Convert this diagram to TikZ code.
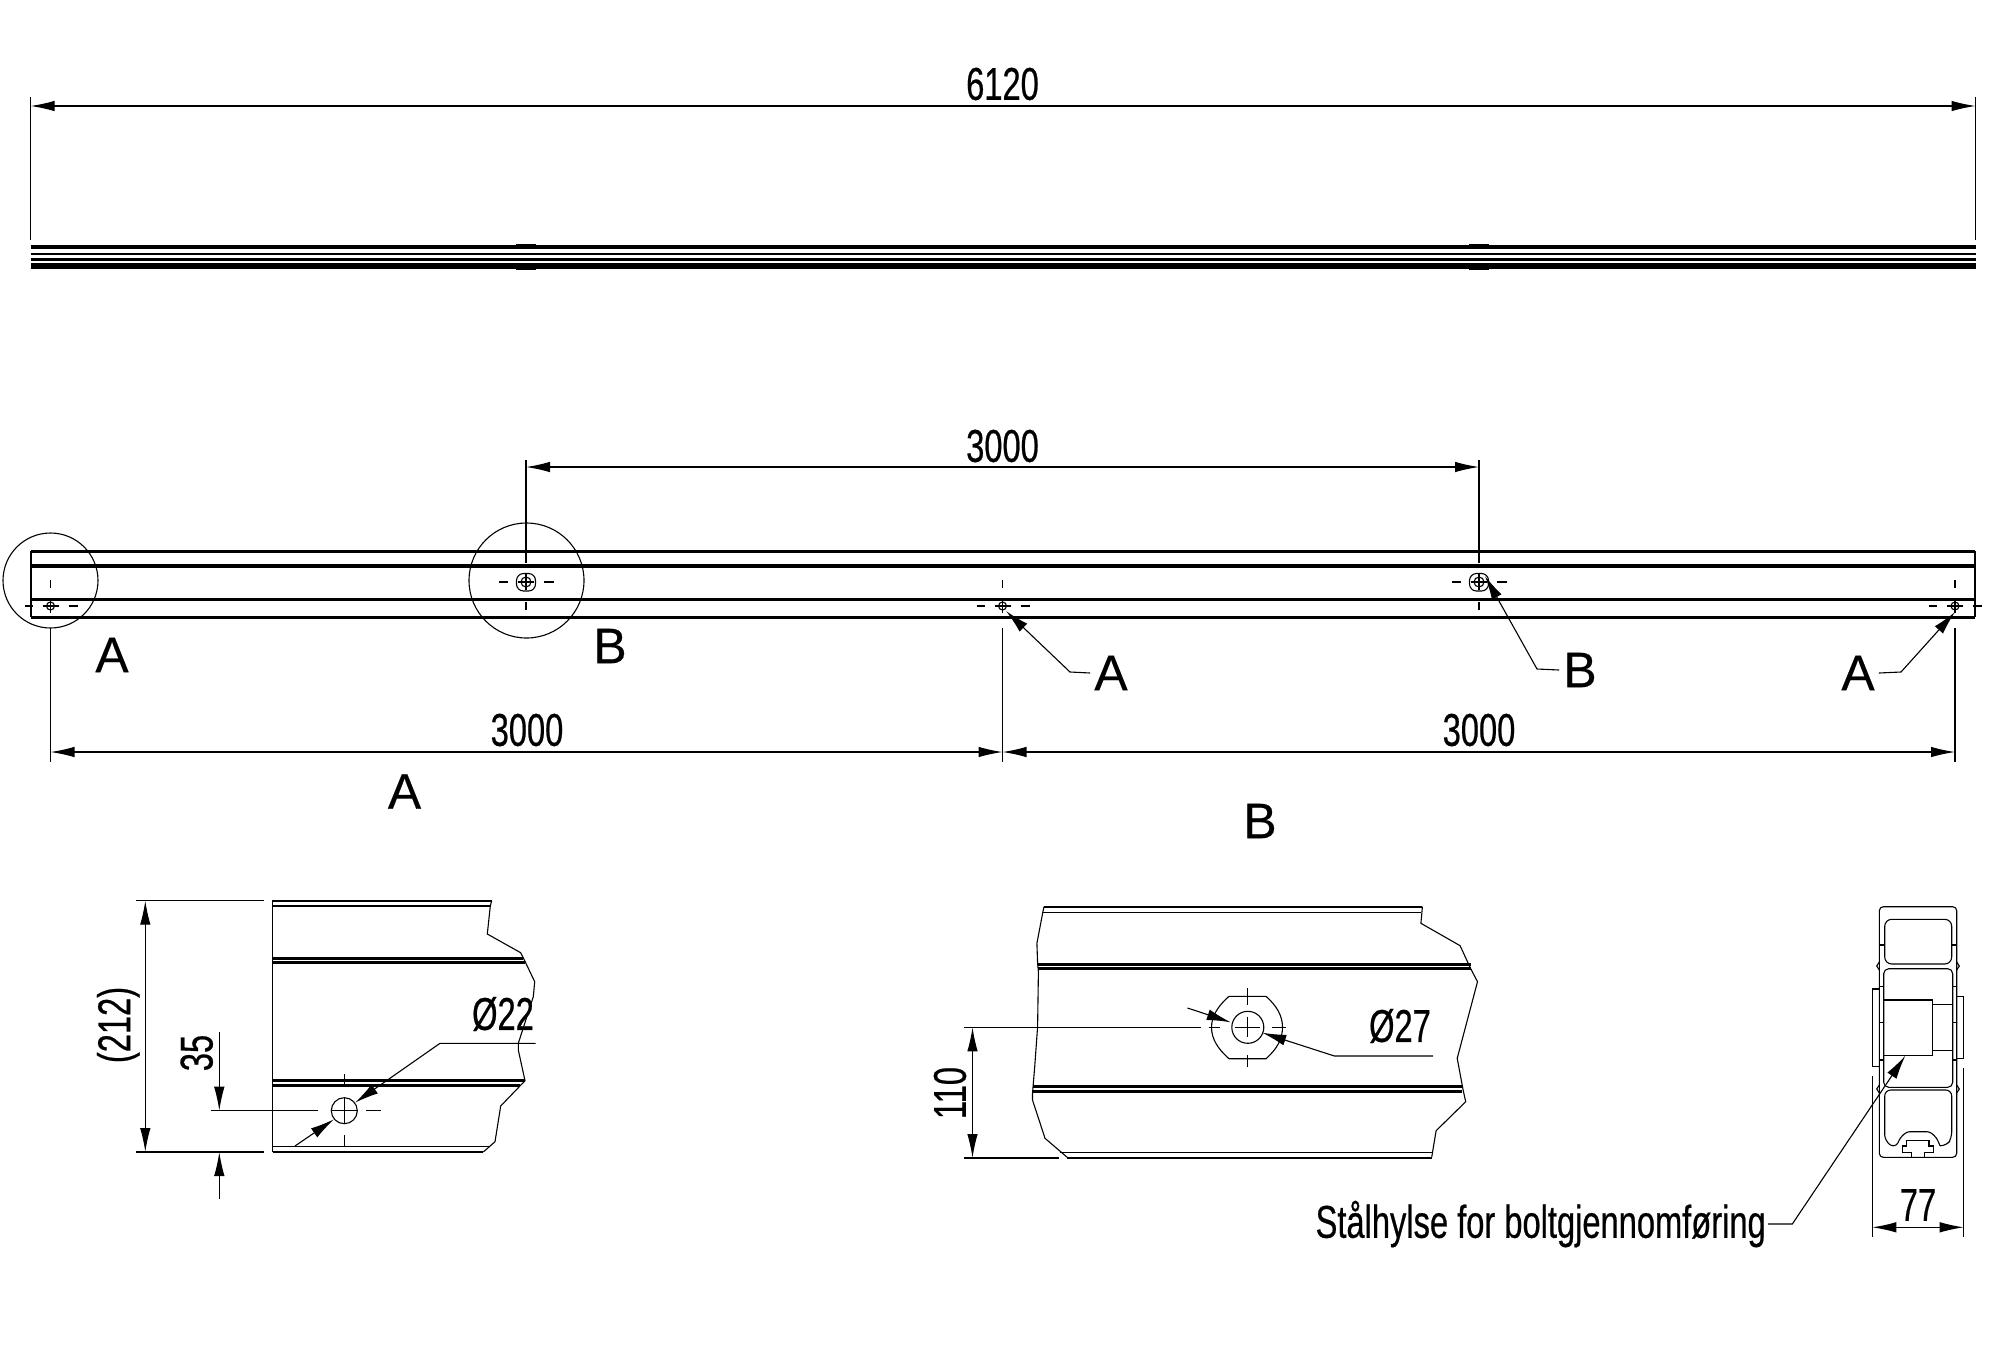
\documentclass[tikz,border=0pt]{standalone}
\usepackage{fontspec}
\setmainfont[FakeBold=0.3]{Liberation Sans}
\newfontfamily\dimfont[FakeStretch=0.71,FakeBold=0.5]{Liberation Sans}
\usetikzlibrary{arrows.meta}
\tikzset{
	thin line/.style={line width=1.1pt},
	thick line/.style={line width=3pt},
	heavy line/.style={line width=4.4pt},
	dim line/.style={line width=1.1pt,{Latex[length=24pt,width=10.5pt]}-{Latex[length=24pt,width=10.5pt]}},
	lead line/.style={line width=1.1pt,-{Latex[length=24pt,width=11pt]}},
	dim text/.style={inner sep=0pt,font=\dimfont\fontsize{46}{50}\selectfont},
	view text/.style={inner sep=0pt,font=\fontsize{50}{54}\selectfont},
}
\begin{document}
\begin{tikzpicture}[x=1pt,y=-1pt]
		\useasboundingbox (0,0) rectangle (2002,1350);
		% side view
		\node[dim text] (t6120) at (1002.5,84) {6120};
		\draw[dim line] (30.6,106) -- (1975.5,106);
		\draw[thin line] (30.6,97) -- (30.6,240);
		\draw[thin line] (1975.5,97) -- (1975.5,240);
		\fill (30.6,245) rectangle (1975.5,249.4);
		\fill (30.6,252.7) rectangle (1975.5,255.4);
		\fill (30.6,258) rectangle (1975.5,260.7);
		\fill (30.6,263) rectangle (1975.5,268.5);
		\foreach \bx in {526,1479} {
			\fill (\bx-10,244) rectangle (\bx+10,246);
			\fill (\bx-10,268) rectangle (\bx+10,270);
		}
		% front view
		\draw[thick line] (31,551) -- (1975,551);
		\draw[heavy line] (31,566) -- (1975,566);
		\draw[thick line] (31,599) -- (1975,599);
		\draw[thick line] (31,617) -- (1975,617);
		\draw[thin line] (31,551) -- (31,617);
		\draw[thin line] (1975,551) -- (1975,617);
		\foreach \hx in {50.5,1002.5,1955} {
			\coordinate (hA) at (\hx,606);
			\draw[thin line] (hA) circle[radius=4];
			\draw[thin line] (\hx-8,606) -- (\hx+8,606);
			\draw[thin line] (\hx-26,606) -- (\hx-18,606);
			\draw[thin line] (\hx+18,606) -- (\hx+27,606);
			\draw[thin line] (\hx,600) -- (\hx,613);
			\draw[thin line] (\hx,580) -- (\hx,588);
		}
		\foreach \hx in {526,1479} {
			\coordinate (hB) at (\hx,582);
			\draw[thin line] (hB) circle[radius=5];
			\draw[thin line,rounded corners=7pt] (\hx-9.5,573.5) rectangle (\hx+9.5,591);
			\draw[thin line] (\hx-8,582) -- (\hx+8,582);
			\draw[thin line] (\hx-27,582) -- (\hx-18,582);
			\draw[thin line] (\hx+18,582) -- (\hx+28,582);
			\draw[thin line] (\hx,574) -- (\hx,590);
			\draw[thin line] (\hx,602) -- (\hx,610);
		}
		\draw[thin line] (50.5,580.5) circle[radius=47.5];
		\draw[thin line] (526.5,580.5) circle[radius=57.5];
		% dimensions front view
		\node[dim text] (t3000a) at (1002.5,446) {3000};
		\draw[dim line] (526,467) -- (1479,467);
		\draw[thin line] (526,460) -- (526,563);
		\draw[thin line] (1479,460) -- (1479,563);
		\node[dim text] (t3000b) at (527,730) {3000};
		\node[dim text] (t3000c) at (1479,730) {3000};
		\draw[dim line] (50.5,752) -- (1002.5,752);
		\draw[dim line] (1002.5,752) -- (1955,752);
		\draw[thin line] (50.5,628) -- (50.5,762);
		\draw[thin line] (1002.5,628) -- (1002.5,762);
		\draw[thin line] (1955,628) -- (1955,762);
		% view labels
		\node[view text] (lA1) at (112,655) {A};
		\node[view text] (lB1) at (610,646) {B};
		\node[view text] (lA2) at (1111,673) {A};
		\node[view text] (lB2) at (1580,670) {B};
		\node[view text] (lA3) at (1858,673) {A};
		\node[view text] (lA4) at (404.5,791.5) {A};
		\node[view text] (lB3) at (1260,821) {B};
		\coordinate (tipA2) at (1006,611);
		\coordinate (tipB2) at (1485,576);
		\coordinate (tipA3) at (1955,612);
		\draw[lead line] (lA2.west) ++(-4,0) -- (1070,672) -- (tipA2);
		\draw[lead line] (lB2.west) ++(-4,0) -- (1537,669) -- (tipB2);
		\draw[lead line] (lA3.east) ++(4,0) -- (1901,672) -- (tipA3);
		% detail A
		\draw[line width=2.4pt] (272.7,900.7) -- (491.7,900.7);
		\draw[thin line] (272.7,906) -- (490.7,906);
		\draw[line width=1.5pt] (272.7,900) -- (272.7,1152);
		\draw[thin line] (491.7,900.7) -- (490.3,906) -- (487.3,934) -- (520.7,952.7) -- (524,959.3) -- (534.7,981.7) -- (533.3,996.7) -- (518.3,1043.3) -- (518.3,1050) -- (525,1080.7) -- (500.7,1106) -- (495,1141.7) -- (483.3,1152);
		\draw[line width=3pt] (272.7,958.3) -- (523,958.3);
		\draw[line width=3pt] (272.7,962.3) -- (525,962.3);
		\draw[line width=3pt] (272.7,1080.7) -- (525,1080.7);
		\draw[line width=3pt] (272.7,1085.3) -- (520,1085.3);
		\draw[thin line] (272.7,1146.3) -- (489.5,1146.3);
		\draw[line width=2.4pt] (272.7,1152) -- (483.3,1152);
		\coordinate (holeA) at (344.3,1110.7);
		\draw[thin line] (holeA) circle[radius=13];
		\draw[thin line] (331.3,1110.7) -- (357.3,1110.7);
		\draw[thin line] (344.3,1097.7) -- (344.3,1123.7);
		\draw[thin line] (344.3,1074) -- (344.3,1086.7);
		\draw[thin line] (344.3,1135) -- (344.3,1147);
		\draw[thin line] (366,1110.7) -- (381,1110.7);
		\draw[thin line] (210.7,1110.7) -- (318,1110.7);
		\draw[dim line] (145.3,900.7) -- (145.3,1152);
		\draw[thin line] (136,900.7) -- (264,900.7);
		\draw[thin line] (136,1152) -- (264,1152);
		\node[dim text,rotate=90] (t212) at (118.3,1025) {(212)};
		\node[dim text,rotate=90] (t35) at (196.7,1053) {35};
		\draw[thin line,-{Latex[length=24pt,width=10.5pt]}] (219.3,1032) -- (219.3,1110.7);
		\draw[thin line,-{Latex[length=24pt,width=10.5pt]}] (219.3,1199) -- (219.3,1152);
		\node[dim text] (t22) at (503,1014) {Ø22};
		\draw[lead line] (535.7,1043.3) -- (440,1043.3) -- (355,1102.7);
		\draw[lead line] (295,1146) -- (334,1119.3);
		% detail B
		\draw[line width=2.4pt] (1044,906.7) -- (1422.4,906.7);
		\draw[thin line] (1043,912.3) -- (1421,912.3);
		\draw[thin line] (1044,906.7) -- (1042.8,912.3) -- (1036.9,943.3) -- (1037.6,963.3) -- (1038.4,971.7) -- (1037.6,1026.7) -- (1034.7,1066.7) -- (1032.5,1093.3) -- (1032.5,1100) -- (1045,1138.3) -- (1067.2,1157.3);
		\draw[thin line] (1422.4,906.7) -- (1420.9,923.3) -- (1460.1,945.7) -- (1470.5,968.3) -- (1477.5,981.7) -- (1457.2,1058.3) -- (1463.1,1090) -- (1465.7,1101.7) -- (1436.1,1130.7) -- (1431.7,1157.3);
		\draw[line width=3pt] (1037.6,964.7) -- (1470.5,964.7);
		\draw[line width=3pt] (1037.6,968.7) -- (1470.5,968.7);
		\draw[line width=3pt] (1033.2,1086.7) -- (1462.3,1086.7);
		\draw[line width=3pt] (1033.2,1091.3) -- (1462.3,1091.3);
		\draw[thin line] (1060,1152.3) -- (1431.7,1152.3);
		\draw[line width=2.4pt] (1067.2,1157.7) -- (1431.7,1157.7);
		\coordinate (holeB) at (1247.8,1027.3);
		\draw[thin line] (holeB) circle[radius=16];
		\draw[thin line] (1229,996.3) -- (1266,996.3) .. controls (1277,1006) and (1282.5,1016) .. (1282.5,1027.3) .. controls (1282.5,1039) and (1277,1049) .. (1266,1058.7) -- (1229,1058.7) .. controls (1218,1049) and (1211.5,1039) .. (1211.5,1027.3) .. controls (1211.5,1016) and (1218,1006) .. (1229,996.3) -- cycle;
		\draw[thin line] (1234.5,1027.3) -- (1260,1027.3);
		\draw[thin line] (1247.8,1016.7) -- (1247.8,1036.7);
		\draw[thin line] (1208.6,1027.3) -- (1220,1027.3);
		\draw[thin line] (1271.5,1027.3) -- (1286,1027.3);
		\draw[thin line] (1247.8,988) -- (1247.8,1005);
		\draw[thin line] (1247.8,1055) -- (1247.8,1067);
		\draw[thin line] (963.7,1027.3) -- (1201,1027.3);
		\draw[thin line] (963.7,1158) -- (1058.7,1158);
		\draw[dim line] (972.5,1027.3) -- (972.5,1158);
		\node[dim text,rotate=90] (t110) at (950,1093) {110};
		\node[dim text] (t27) at (1400,1026) {Ø27};
		\draw[lead line] (1433,1056) -- (1334.4,1056) -- (1262.2,1032.7);
		\draw[lead line] (1187.5,1008) -- (1230.8,1022.3);
		% section
		\draw[thin line,rounded corners=4pt] (1879.3,906.7) rectangle (1956.7,1157.3);
		\draw[thin line,rounded corners=7pt] (1884.7,919.3) rectangle (1951.7,964);
		\draw[thin line,rounded corners=5pt] (1883.7,968.7) rectangle (1952.7,1087.3);
		\draw[thin line,rounded corners=6pt] (1884.7,1120) -- (1884.7,1090) -- (1951.7,1090) -- (1951.7,1138) -- (1946.7,1145.7) -- (1940,1145.7);
		\draw[thin line,rounded corners=3pt] (1884.7,1120) -- (1884.7,1138) -- (1890,1145.7) -- (1896.7,1145.7) -- (1900,1138) -- (1906.7,1131.7) -- (1930,1131.7) -- (1936.7,1138) -- (1940,1145.7);
		\draw[thin line] (1911.3,1157.3) -- (1911.3,1152.7) -- (1902.7,1152.7) -- (1902.7,1146) -- (1906.7,1146) -- (1906.7,1140.7) -- (1929,1140.7) -- (1929,1146) -- (1933.3,1146) -- (1933.3,1152.7) -- (1924.3,1152.7) -- (1924.3,1157.3);
		\foreach \ny in {966,1089} {
			\draw[thin line] (1879.3,\ny-4) -- (1876.7,\ny) -- (1879.3,\ny+4);
			\draw[thin line] (1956.7,\ny-4) -- (1959.3,\ny) -- (1956.7,\ny+4);
		}
		\foreach \ty in {945,986.7,1022.7,1060} {
			\draw[thin line] (1879.3,\ty) -- (1884,\ty);
			\draw[thin line] (1951.7,\ty) -- (1956.7,\ty);
		}
		\draw[thin line] (1872.3,989) rectangle (1879.3,1066.7);
		\draw[thin line] (1956.7,996.7) rectangle (1963.7,1058.7);
		\draw[thin line] (1883.7,1000) rectangle (1932.7,1055.7);
		\draw[thin line] (1932.7,1004.3) rectangle (1952.7,1050.7);
		\draw[dim line] (1872.3,1227.3) -- (1963.7,1227.3);
		\draw[thin line] (1872.3,1076) -- (1872.3,1236.7);
		\draw[thin line] (1963.7,1068) -- (1963.7,1236.7);
		\node[dim text] (t77) at (1918,1205) {77};
		\node[dim text,anchor=east] (tsleeve) at (1766,1224) {Stålhylse for boltgjennomføring};
		\draw[lead line] (tsleeve.east) ++(2,0) -- (1792.3,1224) -- (1905.3,1055.7);
		\end{tikzpicture}
\end{document}
